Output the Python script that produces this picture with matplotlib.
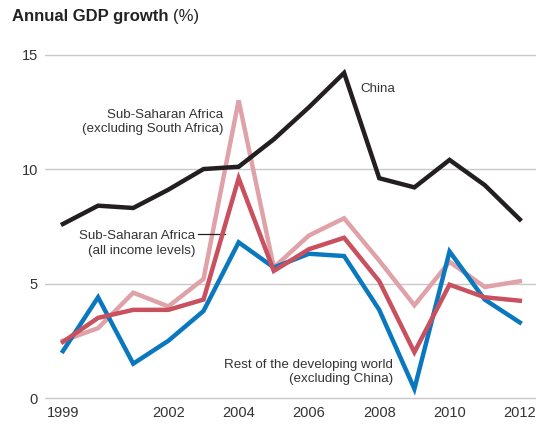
import matplotlib
matplotlib.use("Agg")
import matplotlib.pyplot as plt
from matplotlib import font_manager

years = list(range(1999, 2013))
china = [7.6, 8.4, 8.3, 9.1, 10.0, 10.1, 11.3, 12.7, 14.2, 9.6, 9.2, 10.4, 9.3, 7.8]
rest_dev = [2.05, 4.4, 1.5, 2.5, 3.8, 6.8, 5.7, 6.3, 6.2, 3.85, 0.4, 6.4, 4.3, 3.3]
ssa_all = [2.45, 3.5, 3.85, 3.85, 4.3, 9.6, 5.55, 6.5, 7.0, 5.1, 2.0, 4.95, 4.4, 4.25]
ssa_excl = [2.5, 3.05, 4.6, 4.0, 5.2, 13.0, 5.7, 7.1, 7.85, 6.0, 4.05, 5.95, 4.85, 5.1]
xticks = [1999, 2002, 2004, 2006, 2008, 2010, 2012]
yticks = [0, 5, 10, 15]

names = {f.name for f in font_manager.fontManager.ttflist}
fam = "Liberation Sans Narrow" if "Liberation Sans Narrow" in names else "Liberation Sans"
plt.rcParams['font.family'] = [fam, 'DejaVu Sans']

fig = plt.figure(figsize=(5.36, 4.25), dpi=100)
ax = fig.add_axes([45/536, 1-400/425, 1-45/536, 350/425])

txt = '#333333'
ax.plot(years, china, color='#231f20', lw=3.2, solid_joinstyle='miter', zorder=4)
ax.plot(years, rest_dev, color='#0a78bf', lw=3.2, solid_joinstyle='miter', zorder=3)
ax.plot(years, ssa_excl, color='#dfa2a8', lw=3.2, solid_joinstyle='miter', zorder=2)
ax.plot(years, ssa_all, color='#c8505f', lw=3.2, solid_joinstyle='miter', zorder=3)

ax.set_xlim(1998.49, 2012.46)
ax.set_ylim(-0.087, 15.2)
ax.set_yticks(yticks)
ax.set_xticks(xticks)
for s in ax.spines.values():
    s.set_visible(False)
ax.grid(axis='y', color='#c8c8c8', lw=1)
ax.set_axisbelow(True)
ax.tick_params(length=0, labelsize=10.5, colors=txt, pad=4)
ax.tick_params(axis='y', pad=5)

fs = 9.6
ax.text(2007.45, 13.5, 'China', fontsize=fs, color=txt, ha='left', va='center')
ax.text(2003.56, 12.05, 'Sub-Saharan Africa\n(excluding South Africa)', fontsize=fs, color=txt,
        ha='right', va='center', linespacing=1.25)
ax.text(2002.77, 6.75, 'Sub-Saharan Africa\n(all income levels)', fontsize=fs, color=txt,
        ha='right', va='center', linespacing=1.25)
ax.plot([2002.85, 2003.6], [7.15, 7.15], color='#231f20', lw=0.9)
ax.text(2008.39, 1.15, 'Rest of the developing world\n(excluding China)', fontsize=fs, color=txt,
        ha='right', va='center', linespacing=1.25)

fig.text(12/536, 1-16/425, 'Annual GDP growth', fontsize=12, fontweight='bold', color='#222222',
         ha='left', va='center')
fig.canvas.draw()
t = fig.texts[0]
bb = t.get_window_extent()
fig.text(bb.x1/536 + 4/536, 1-16/425, '(%)', fontsize=12, color='#222222', ha='left', va='center')

fig.savefig('out.png', dpi=100)
